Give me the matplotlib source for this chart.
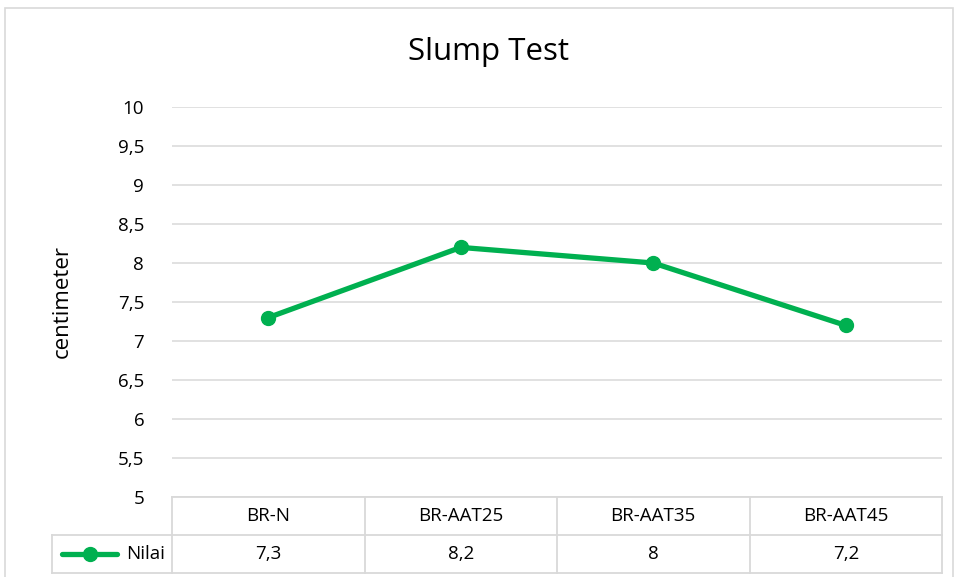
import matplotlib.pyplot as plt
from matplotlib.lines import Line2D

# Data
categories = ['BR-N', 'BR-AAT25', 'BR-AAT35', 'BR-AAT45']
nilai = [7.3, 8.2, 8.0, 7.2]
value_labels = ['7,3', '8,2', '8', '7,2']
y_ticks = [5, 5.5, 6, 6.5, 7, 7.5, 8, 8.5, 9, 9.5, 10]
y_tick_labels = ['5', '5,5', '6', '6,5', '7', '7,5', '8', '8,5', '9', '9,5', '10']

GREEN = '#00B050'
GRID = '#D9D9D9'
plt.rcParams['font.family'] = ['Open Sans', 'DejaVu Sans']
FS = 13.5

W, H = 958, 577
fig = plt.figure(figsize=(W / 100, H / 100), dpi=100)

# chart outer border (Excel chart area)
fig.patches.append(plt.Rectangle((5 / W, -0.01), (953 - 5) / W, 1 - 8 / H + 0.01,
                                 transform=fig.transFigure, fill=False,
                                 edgecolor=GRID, linewidth=1.2))

# plot area in pixels
left, right, top, bottom = 172, 942, 107, 497
ax = fig.add_axes([left / W, 1 - bottom / H, (right - left) / W, (bottom - top) / H])

x = list(range(len(categories)))
ax.plot(x, nilai, color=GREEN, linewidth=3.8, marker='o', markersize=10,
        solid_capstyle='round', zorder=3)

ax.set_xlim(-0.5, len(categories) - 0.5)
ax.set_ylim(5, 10)
ax.set_yticks(y_ticks)
ax.set_yticklabels(y_tick_labels, fontsize=FS)
ax.set_xticks([])
ax.tick_params(axis='y', length=0, pad=20)
ax.grid(axis='y', color=GRID, linewidth=1.1)
ax.set_axisbelow(True)
for s in ax.spines.values():
    s.set_visible(False)

fig.text(62 / W, 1 - 302 / H, 'centimeter', rotation=90, ha='center', va='center',
         fontsize=16)
fig.text(489 / W, 1 - 52 / H, 'Slump Test', ha='center', va='center', fontsize=22.5)

# data table below the plot
row_h = 38 / (bottom - top)
tr = ax.get_xaxis_transform()
line_kw = dict(color=GRID, linewidth=1.3, clip_on=False, transform=tr)
leg_left = -0.5 - (left - 52) / ((right - left) / len(categories))
# horizontal lines
ax.add_line(Line2D([-0.5, 3.5], [0, 0], **line_kw))
ax.add_line(Line2D([leg_left, 3.5], [-row_h, -row_h], **line_kw))
ax.add_line(Line2D([leg_left, 3.5], [-2 * row_h, -2 * row_h], **line_kw))
# vertical lines
for xv in [-0.5, 0.5, 1.5, 2.5, 3.5]:
    ax.add_line(Line2D([xv, xv], [0, -2 * row_h], **line_kw))
ax.add_line(Line2D([leg_left, leg_left], [-row_h, -2 * row_h], **line_kw))

for i, (cat, val) in enumerate(zip(categories, value_labels)):
    ax.text(i, -row_h / 2, cat, transform=tr, ha='center', va='center', fontsize=FS)
    ax.text(i, -1.5 * row_h, val, transform=tr, ha='center', va='center', fontsize=FS)

# legend key in table
ky = -1.5 * row_h
kx0 = leg_left + 0.05
kx1 = kx0 + 0.29
ax.add_line(Line2D([kx0, kx1], [ky, ky], color=GREEN, linewidth=3.8, clip_on=False,
                   transform=tr, solid_capstyle='round'))
ax.add_line(Line2D([(kx0 + kx1) / 2], [ky], color=GREEN, marker='o', markersize=10,
                   clip_on=False, transform=tr))
ax.text(-0.5 - 0.035, ky, 'Nilai', transform=tr, ha='right', va='center', fontsize=FS)

fig.savefig('out.png', dpi=100, facecolor='white')
